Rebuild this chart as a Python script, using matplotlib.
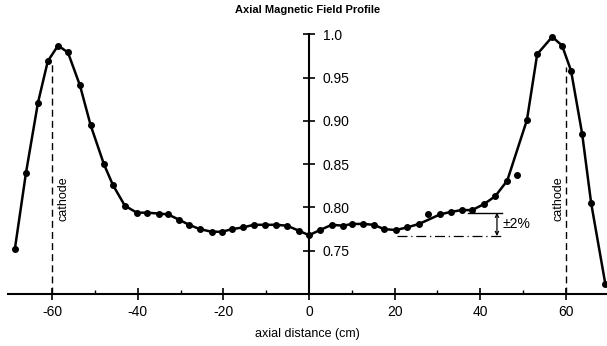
import numpy as np
import matplotlib
matplotlib.use("Agg")
import matplotlib.pyplot as plt

x_cm = [-68.7, -66.1, -63.3, -61.0, -58.6, -56.3, -53.5, -51.0, -47.9, -45.8,
        -43.0, -40.2, -37.9, -35.0, -32.9, -30.4, -28.0, -25.5, -22.7, -20.3,
        -18.0, -15.4, -12.9, -10.3, -7.7, -5.1, -2.3, 0.0, 2.6, 5.3,
        8.0, 10.0, 12.6, 15.2, 17.5, 20.3, 22.9, 25.7, 30.6, 33.2,
        35.7, 38.1, 40.9, 43.5, 46.3, 50.9, 53.3, 56.8, 59.1, 61.2,
        63.8, 65.9, 69.2]
b_rel = [0.752, 0.840, 0.921, 0.969, 0.987, 0.979, 0.941, 0.895, 0.850, 0.826,
         0.802, 0.794, 0.794, 0.793, 0.792, 0.786, 0.780, 0.775, 0.772, 0.772,
         0.775, 0.777, 0.780, 0.780, 0.780, 0.779, 0.773, 0.768, 0.774, 0.780,
         0.779, 0.781, 0.781, 0.780, 0.775, 0.774, 0.777, 0.781, 0.792, 0.795,
         0.797, 0.797, 0.804, 0.813, 0.831, 0.901, 0.977, 0.997, 0.987, 0.958,
         0.885, 0.805, 0.712]
# points lying off the drawn curve
x_off = [27.8, 48.6]
b_off = [0.792, 0.838]

x_ticks = [-60, -40, -20, 0, 20, 40, 60]
y_ticks = [0.75, 0.80, 0.85, 0.90, 0.95, 1.0]
y_ticklabels = ["0.75", "0.80", "0.85", "0.90", "0.95", "1.0"]
cathode_x = [-60, 60]
cathode_top = [0.969, 0.962]

plt.rcParams["font.family"] = ["Liberation Sans", "DejaVu Sans"]

fig = plt.figure(figsize=(6.07, 3.46), dpi=100)
ax = fig.add_axes([8 / 607, 0.150, 599 / 607, 0.776])
ax.set_xlim(-70.3, 69.6)
ax.set_ylim(0.70, 1.01)

ax.plot(x_cm, b_rel, color="black", lw=1.8, marker="o", ms=4, zorder=3, clip_on=False)
ax.plot(x_off, b_off, "o", color="black", ms=4, zorder=3)

# cathode positions
for cx, top, tx in zip(cathode_x, cathode_top, [-57.3, 58.2]):
    ax.plot([cx, cx], [0.70, top], color="black", lw=1.0, ls=(0, (5, 3)))
    ax.text(tx, 0.81, "cathode", rotation=90, ha="center", va="center", fontsize=9)

# +-2% uniformity marker
ax.plot([37.2, 45.1], [0.794, 0.794], color="black", lw=1.0)
ax.plot([20.5, 45.1], [0.767, 0.767], color="black", lw=0.9, ls=(0, (8, 3, 1, 3)))
ax.annotate("", xy=(43.9, 0.794), xytext=(43.9, 0.767),
            arrowprops=dict(arrowstyle="<->", lw=0.9, color="black",
                            shrinkA=0, shrinkB=0, mutation_scale=6))
ax.text(45.3, 0.7805, "±2%", ha="left", va="center", fontsize=10)

# axes: bottom line plus a vertical axis through x = 0
for s in ["top", "left"]:
    ax.spines[s].set_visible(False)
ax.spines["right"].set_position(("data", 0))
ax.spines["right"].set_bounds(0.70, 1.0)
ax.spines["right"].set_linewidth(1.5)
ax.spines["bottom"].set_linewidth(1.5)
ax.yaxis.tick_right()
ax.set_yticks(y_ticks)
ax.set_yticklabels(y_ticklabels, fontsize=10)
ax.tick_params(axis="y", direction="inout", length=8, width=1.2, pad=6)

ax.set_xticks(x_ticks)
ax.set_xticklabels([str(v) for v in x_ticks], fontsize=10)
ax.set_xticks([-50, -30, -10, 10, 30, 50], minor=True)
ax.tick_params(axis="x", which="major", direction="inout", length=8, width=1.2, pad=4)
ax.tick_params(axis="x", which="minor", direction="in", length=3, width=1.0)

ax.set_xlabel("axial distance (cm)", fontsize=9, labelpad=6)
ax.set_title("Axial Magnetic Field Profile", fontsize=8, fontweight="bold", pad=9)

fig.savefig("out.png", dpi=100)
